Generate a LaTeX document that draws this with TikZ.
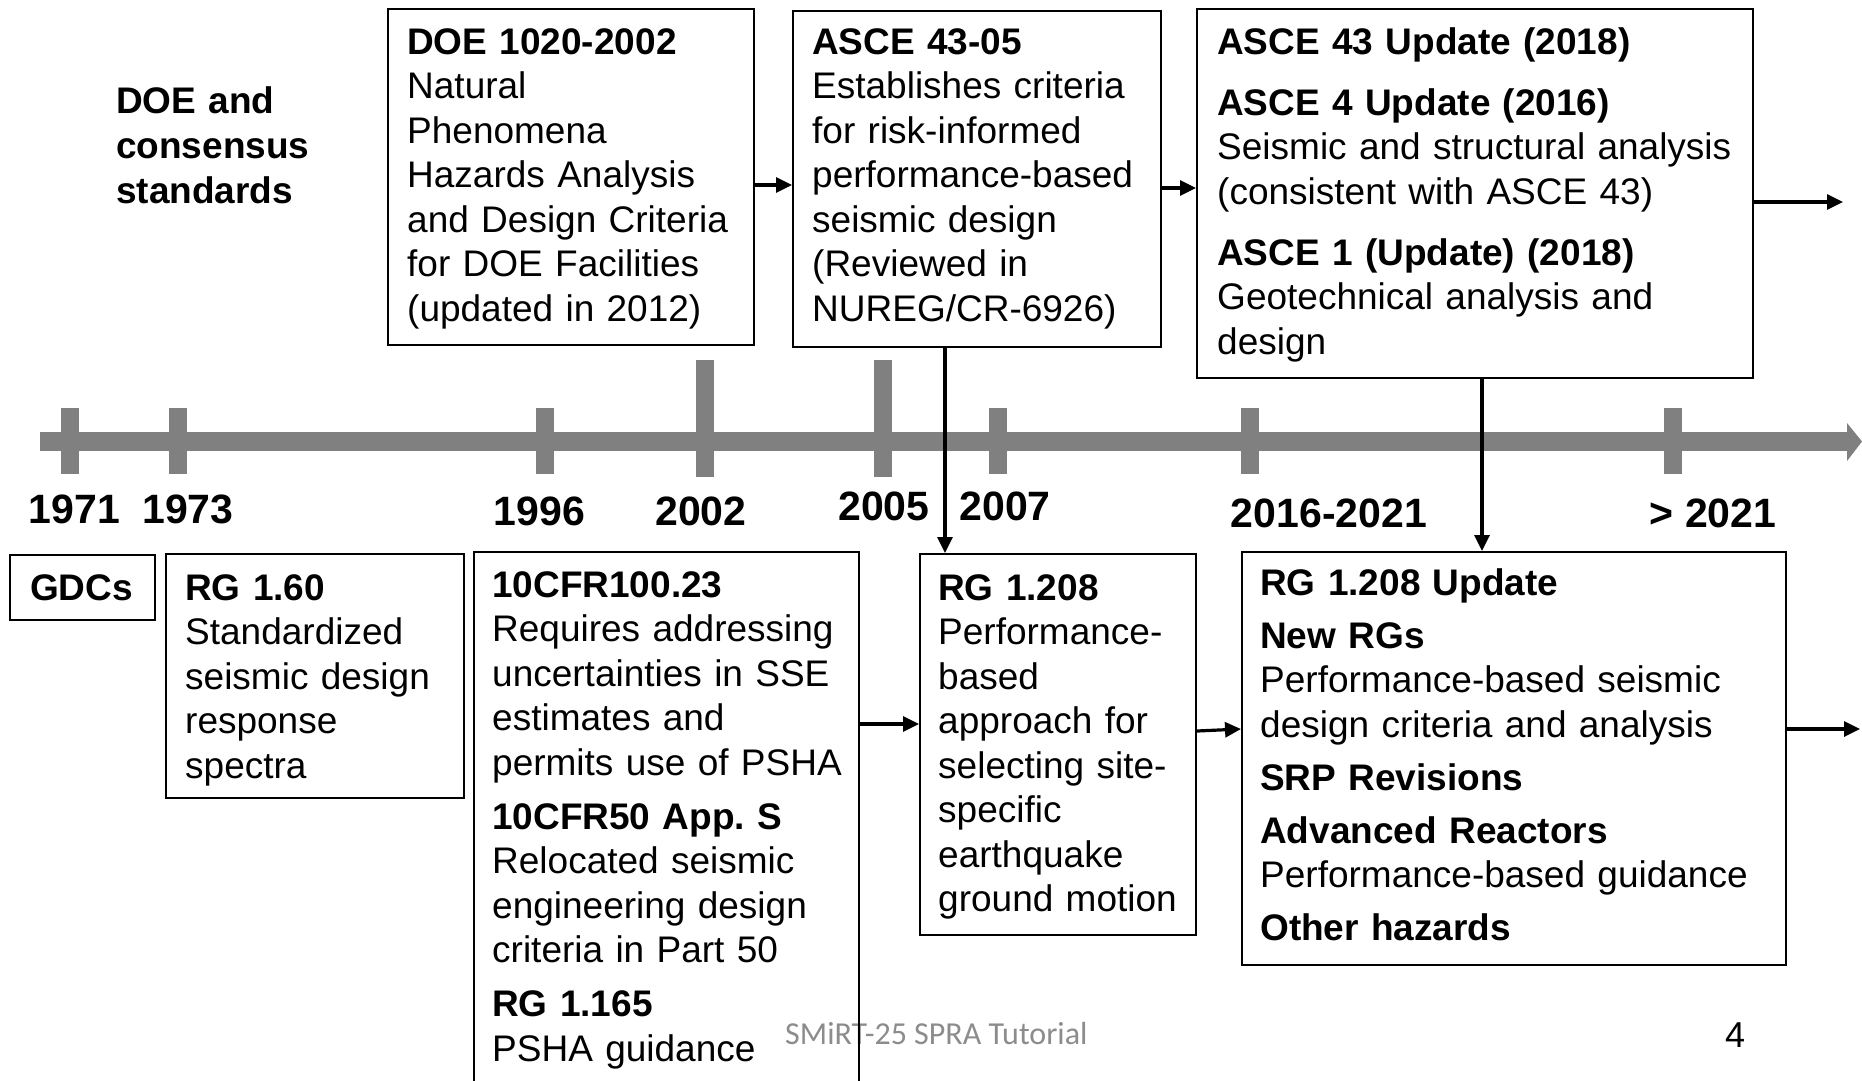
\documentclass[tikz,border=0pt]{standalone}
\usepackage{fontspec}
\setmainfont{Liberation Sans}
\newfontfamily\calib{Carlito}
\usetikzlibrary{arrows.meta}
\definecolor{barc}{HTML}{808080}
\definecolor{footc}{HTML}{8C8C8C}
\frenchspacing
\begin{document}
\begin{tikzpicture}[x=1pt,y=-1pt,
  box/.style={draw=black, line width=2pt, inner sep=0pt, anchor=north west},
  txt/.style={anchor=base west, inner sep=0pt, text width=600pt, align=left, font=\fontsize{37}{44.5}\selectfont},
  yr/.style={anchor=base, inner sep=0pt, font=\fontsize{41}{49}\selectfont\bfseries},
  arr/.style={line width=3.2pt, -{Triangle[length=16pt,width=15pt]}},
  tickbar/.style={fill=barc}
]
\fill[white] (0,0) rectangle (1862,1080);
\useasboundingbox (0,0) rectangle (1862,1080);

% timeline
\fill[barc] (40,432) rectangle (1848,451);
\fill[barc] (1847,423) -- (1862,441.5) -- (1847,461) -- cycle;
\foreach \x in {70,178,545,998,1250,1673}{\fill[barc] (\x-9,408) rectangle (\x+9,474);}
\foreach \x in {705,883}{\fill[barc] (\x-9,360) rectangle (\x+9,477);}

% year labels
\node[yr] (y1971) at (74.5,523) {1971};
\node[yr] (y1973) at (188,523) {1973};
\node[yr] (y1996) at (539.5,525) {1996};
\node[yr] (y2002) at (701,525) {2002};
\node[yr] (y2005) at (884,520) {2005};
\node[yr] (y2007) at (1005,520) {2007};
\node[yr] (y2016) at (1329,527) {2016-2021};
\node[yr] (y2021) at (1713,527) {> 2021};

% side label
\node[txt, font=\fontsize{37}{45}\selectfont\bfseries] (lbl) at (116,113) {DOE and\\consensus\\standards};

% footer
\node[anchor=base west, inner sep=0pt, font=\calib\fontsize{32}{38}\selectfont, text=footc] (foot) at (785,1044) {SMiRT-25 SPRA Tutorial};
\node[anchor=base west, inner sep=0pt, font=\fontsize{36}{40}\selectfont] (pg) at (1725,1047) {4};

% top boxes
\node[box, minimum width=366pt, minimum height=336pt] (doe) at (387,8) {};
\node[box, minimum width=368pt, minimum height=336pt] (asce) at (792,10) {};
\node[box, minimum width=556pt, minimum height=369pt] (upd) at (1196,8) {};

\node[txt] (doet) at (407,54) {\textbf{DOE 1020-2002}\\Natural\\Phenomena\\Hazards Analysis\\and Design Criteria\\for DOE Facilities\\(updated in 2012)};
\node[txt] (ascet) at (812,54) {\textbf{ASCE 43-05}\\Establishes criteria\\for risk-informed\\performance-based\\seismic design\\(Reviewed in\\NUREG/CR-6926)};
\node[txt] (updt) at (1217,54) {\textbf{ASCE 43 Update (2018)}\\[16.5pt]\textbf{ASCE 4 Update (2016)}\\Seismic and structural analysis\\(consistent with ASCE 43)\\[16.5pt]\textbf{ASCE 1 (Update) (2018)}\\Geotechnical analysis and\\design};

% bottom boxes
\node[box, minimum width=145pt, minimum height=65pt] (gdc) at (9,554) {};
\node[box, minimum width=298pt, minimum height=244pt] (rg160) at (165,553) {};
\node[box, minimum width=385pt, minimum height=533pt] (cfr) at (473,551) {};
\node[box, minimum width=276pt, minimum height=381pt] (rg208) at (919,553) {};
\node[box, minimum width=544pt, minimum height=413pt] (rgupd) at (1241,551) {};

\node[anchor=base, inner sep=0pt, font=\fontsize{37}{44.5}\selectfont\bfseries] (gdct) at (81.5,600) {GDCs};
\node[txt] (rg160t) at (185,600) {\textbf{RG 1.60}\\Standardized\\seismic design\\response\\spectra};
\node[txt] (cfrt) at (492,597) {\textbf{10CFR100.23}\\Requires addressing\\uncertainties in SSE\\estimates and\\permits use of PSHA\\[9.5pt]\textbf{10CFR50 App. S}\\Relocated seismic\\engineering design\\criteria in Part 50\\[9.5pt]\textbf{RG 1.165}\\PSHA guidance};
\node[txt] (rg208t) at (938,600) {\textbf{RG 1.208}\\Performance-\\based\\approach for\\selecting site-\\specific\\earthquake\\ground motion};
\node[txt] (rgupdt) at (1260,595) {\textbf{RG 1.208 Update}\\[8.5pt]\textbf{New RGs}\\Performance-based seismic\\design criteria and analysis\\[8.5pt]\textbf{SRP Revisions}\\[8.5pt]\textbf{Advanced Reactors}\\Performance-based guidance\\[8.5pt]\textbf{Other hazards}};

% connectors
\coordinate (o1) at (1843,202);
\coordinate (o2) at (1860,729);
\draw[arr] (doe.east |- 0,185) -- (asce.west |- 0,185);
\draw[arr] (asce.east |- 0,188) -- (upd.west |- 0,188);
\draw[arr] (upd.east |- o1) -- (o1);
\draw[arr] (asce.south -| 945,0) -- (rg208.north -| 945,0);
\draw[arr] (upd.south -| 1482,0) -- (rgupd.north -| 1482,0);
\draw[arr] (cfr.east |- 0,724) -- (rg208.west |- 0,724);
\draw[arr] (rg208.east |- 0,731) -- (rgupd.west |- 0,729);
\draw[arr] (rgupd.east |- o2) -- (o2);
\end{tikzpicture}
\end{document}
